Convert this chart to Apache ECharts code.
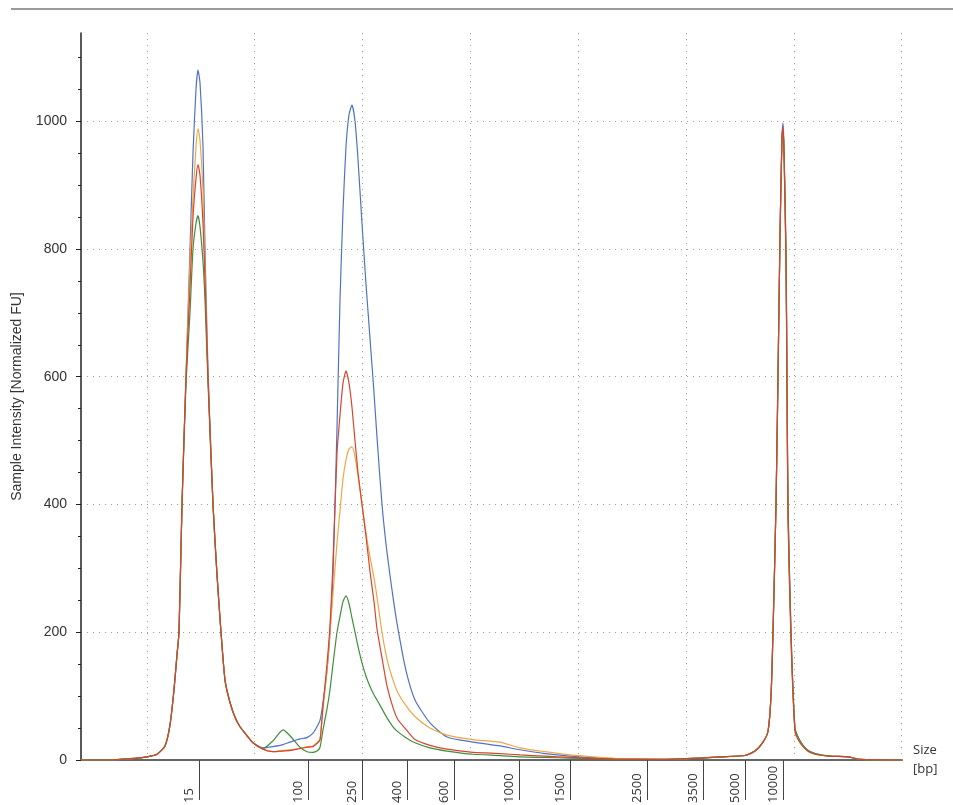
<!DOCTYPE html>
<html>
<head>
<meta charset="utf-8">
<title>Electropherogram</title>
<script src="https://cdn.jsdelivr.net/npm/echarts@6/dist/echarts.min.js"></script>
<style>
  html, body { margin: 0; padding: 0; background: #fff; }
  #chart { width: 953px; height: 805px; }
</style>
</head>
<body>
<div id="chart"></div>
<script>
// run position (x) shared by all samples
const xPos = [
  0, 29, 49, 66, 76, 84, 89, 93, 96, 98, 101, 105, 109, 112, 115, 117, 119, 122, 124, 127, 132, 136, 140, 144, 149, 154, 159, 164, 172, 182,
  192, 202, 209, 219, 226, 232, 236, 239, 242, 246, 249, 252, 256, 259, 262, 265, 268, 271, 274, 277, 281, 285, 289, 293, 296, 301, 306, 312, 317, 325, 334, 349, 366, 392,
  419, 439, 464, 489, 519, 539, 579, 619, 639, 664, 674, 682, 687, 690, 692, 695, 697, 699, 701, 702, 703, 705, 706, 707, 710, 714, 719, 726, 734, 749, 767, 779, 821
];

// sample intensities [Normalized FU]
const blueFU = [
  0, 0, 2, 5, 9, 22, 55, 110, 165, 200, 400, 600, 800, 950, 1050, 1080, 1060, 960, 800, 610, 400, 290, 200, 125, 90, 67, 52, 42, 27, 19,
  21, 24, 28, 33, 35, 42, 52, 62, 90, 140, 200, 290, 520, 720, 860, 960, 1010, 1025, 1000, 940, 840, 745, 660, 575, 505, 400, 325, 255, 205, 140, 94, 58, 36, 28,
  22, 16, 10, 6, 3, 2, 1, 3, 5, 7, 14, 28, 45, 100, 200, 400, 600, 820, 980, 997, 960, 800, 600, 400, 200, 50, 30, 16, 10, 6, 5, 1, 0
];
const orangeFU = [
  0, 0, 2, 5, 9, 22, 55, 110, 165, 200, 400, 600, 780, 880, 960, 988, 970, 890, 770, 600, 400, 290, 200, 125, 90, 67, 52, 42, 27, 17,
  13, 15, 16, 18, 21, 22, 27, 33, 80, 140, 200, 260, 340, 390, 440, 470, 487, 490, 475, 445, 400, 355, 318, 285, 255, 200, 158, 125, 105, 85, 68, 50, 39, 32,
  28, 19, 13, 8, 4, 2, 1, 3, 5, 7, 14, 28, 45, 100, 200, 400, 600, 820, 970, 985, 950, 780, 580, 380, 190, 45, 27, 15, 9, 6, 5, 1, 0
];
const redFU = [
  0, 0, 2, 5, 9, 22, 55, 110, 165, 200, 400, 600, 740, 850, 910, 932, 915, 840, 750, 600, 400, 290, 200, 125, 90, 67, 52, 42, 27, 17,
  13, 14, 15, 18, 20, 21, 26, 31, 85, 150, 210, 310, 480, 540, 590, 609, 590, 552, 500, 450, 400, 350, 295, 248, 205, 160, 116, 82, 63, 48, 32, 23, 17, 12,
  10, 8, 6, 4, 2, 1, 1, 3, 5, 7, 14, 28, 45, 100, 200, 400, 600, 820, 975, 992, 950, 780, 580, 380, 190, 45, 27, 15, 9, 6, 5, 1, 0
];
const greenFU = [
  0, 0, 2, 5, 9, 22, 55, 110, 165, 200, 400, 590, 700, 800, 840, 852, 835, 780, 720, 590, 400, 290, 200, 125, 90, 67, 52, 42, 27, 18,
  30, 47, 38, 20, 13, 12, 14, 20, 47, 80, 110, 150, 200, 225, 248, 257, 245, 222, 200, 178, 152, 131, 115, 102, 94, 80, 66, 52, 44, 35, 27, 19, 14, 9,
  7, 5, 4, 3, 2, 1, 1, 3, 5, 7, 14, 28, 45, 100, 200, 400, 600, 820, 975, 985, 955, 790, 600, 400, 200, 50, 30, 16, 10, 6, 5, 1, 0
];

// ladder sizes [bp] and where they sit on the run
const ladderLabels = ['15', '100', '250', '400', '600', '1000', '1500', '2500', '3500', '5000', '10000'];
const ladderPos = [118, 227, 281, 326, 373, 438, 489, 566, 622, 664, 702];
const gridPos = [66, 173, 281, 389, 497, 605, 713, 820];
const yMajor = [0, 200, 400, 600, 800, 1000];
const yMinor = [50, 100, 150, 200, 250, 300, 350, 400, 450, 500, 550, 600, 650, 700, 750, 800, 850, 900, 950, 1000, 1050, 1100];

const chart = echarts.init(document.getElementById('chart'));

// labels sit just left of their ladder tick
const labelPos = ladderPos.map(v => v - 10);

const dotted = { color: '#a0a0a0', width: 1, type: [1, 5] };

const samples = [
  { name: 'blue', data: blueFU, color: '#4f72c9' },
  { name: 'orange', data: orangeFU, color: '#f2a641' },
  { name: 'green', data: greenFU, color: '#3f8f3a' },
  { name: 'red', data: redFU, color: '#d6452e' }
];

chart.setOption({
  animation: false,
  backgroundColor: '#fff',
  grid: { left: 81, right: 51, top: 33, bottom: 45, containLabel: false, outerBoundsMode: 'none' },
  graphic: [
    { type: 'line', shape: { x1: 11, y1: 9, x2: 953, y2: 9 }, style: { stroke: '#9a9a9a', lineWidth: 2 } }
  ],
  xAxis: [
    {
      type: 'value', min: 0, max: 821, position: 'bottom',
      axisLine: { show: true, lineStyle: { color: '#666', width: 2 } },
      axisTick: { show: false, customValues: gridPos },
      axisLabel: { show: false },
      splitLine: { show: true, lineStyle: dotted },
      name: 'Size\n[bp]',
      nameLocation: 'end',
      nameGap: 11,
      nameTextStyle: { fontFamily: 'Open Sans', fontSize: 13, color: '#333', lineHeight: 19, align: 'left', verticalAlign: 'middle', padding: [27, 0, 0, 0] }
    },
    {
      type: 'value', min: 0, max: 821, position: 'bottom', offset: 6,
      axisLine: { show: false },
      axisTick: { show: true, customValues: ladderPos, length: 40, lineStyle: { color: '#444', width: 1 } },
      axisLabel: {
        customValues: labelPos, rotate: 90, align: 'left', margin: 37,
        fontFamily: 'Open Sans', fontSize: 13, color: '#333',
        formatter: v => ladderLabels[labelPos.indexOf(v)]
      },
      splitLine: { show: false }
    }
  ],
  yAxis: [
    {
      type: 'value', min: 0, max: 1138, position: 'left',
      axisLine: { show: true, lineStyle: { color: '#222', width: 1.5 } },
      axisTick: { show: true, customValues: yMajor, length: 5, lineStyle: { color: '#222' } },
      axisLabel: {
        customValues: yMajor, margin: 14, fontFamily: 'Liberation Sans', fontSize: 14, color: '#333',
        formatter: v => String(v)
      },
      splitLine: { show: true, lineStyle: dotted },
      name: 'Sample Intensity [Normalized FU]',
      nameLocation: 'middle',
      nameGap: 57,
      nameTextStyle: { fontFamily: 'Liberation Sans', fontSize: 14, color: '#333' }
    },
    {
      type: 'value', min: 0, max: 1138, position: 'left',
      axisLine: { show: false },
      axisTick: { show: true, customValues: yMinor, length: 3, lineStyle: { color: '#222' } },
      axisLabel: { show: false },
      splitLine: { show: false }
    }
  ],
  series: samples.map(s => ({
    name: s.name,
    type: 'line',
    xAxisIndex: 0,
    yAxisIndex: 0,
    showSymbol: false,
    smooth: 0.2,
    data: xPos.map((x, i) => [x, s.data[i]]),
    lineStyle: { color: s.color, width: 1.2 },
    itemStyle: { color: s.color }
  }))
});
</script>
</body>
</html>
